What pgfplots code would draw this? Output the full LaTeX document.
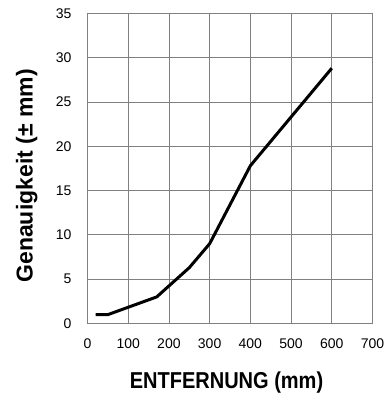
\documentclass[border=0pt]{standalone}
\usepackage{graphicx}
\usepackage{fontspec}
\setmainfont{Liberation Sans}
\usepackage{pgfplots}
\pgfplotsset{compat=1.18}
\definecolor{gridgray}{RGB}{128,128,128}
\begin{document}
\begin{tikzpicture}
\begin{axis}[
  scale only axis,
  width=285pt, height=310.2pt,
  xmin=0, xmax=700, ymin=0, ymax=35,
  xtick={0,100,...,700}, ytick={0,5,...,35},
  major tick length=0pt,
  grid=major,
  major grid style={gridgray, line width=0.8pt},
  axis line style={gridgray, line width=0.8pt},
  /pgf/number format/assume math mode=true,
  tick label style={font=\fontsize{14}{14}\selectfont, inner sep=0pt},
  xticklabel style={anchor=base, yshift=-24.8pt},
  yticklabel style={anchor=east, xshift=-15.8pt},
  xlabel={\scalebox{0.87}[1]{\bfseries ENTFERNUNG (mm)}},
  ylabel={\bfseries Genauigkeit (± mm)},
  label style={font=\fontsize{23}{23}\selectfont, inner sep=0pt},
  xlabel style={at={(axis description cs:0.4877,-0.2089)}, anchor=base},
  ylabel style={at={(axis description cs:-0.1923,0.4758)}, anchor=base, rotate=0},
]
\addplot[black, line width=3pt, line join=round, no marks] coordinates {
  (20,1) (50,1) (170,3) (250,6.3) (300,9) (400,17.8) (600,28.8)
};
\end{axis}
\pgfresetboundingbox
\path (-87.5pt,-74.5pt) rectangle (300.5pt,323.5pt);
\end{tikzpicture}
\end{document}
